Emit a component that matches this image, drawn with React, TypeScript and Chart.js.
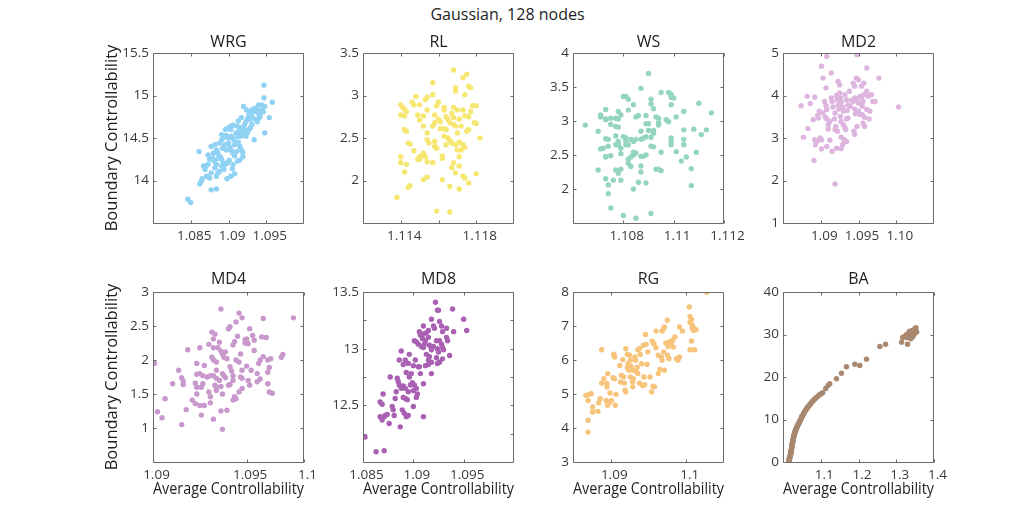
import { useEffect, useRef } from 'react';
import { Chart, registerables } from 'chart.js';

Chart.register(...registerables);
Chart.defaults.font.family = "'Open Sans', 'Noto Sans', sans-serif";

type Pt = [number, number];

// ---- data: [average controllability, boundary controllability] per node ----

const WRG: Pt[] = [
  [1.0846, 13.78], [1.085, 13.74], [1.0861, 14.34], [1.0862, 13.96], [1.0864, 13.99], [1.0865, 14.02],
  [1.0867, 14.17], [1.087, 14.17], [1.0873, 14.19], [1.0869, 14.13], [1.0877, 13.89], [1.0884, 13.9],
  [1.0871, 14.05], [1.0875, 14.03], [1.0877, 14.09], [1.0877, 14.4], [1.0882, 14.42], [1.0879, 14.26],
  [1.0881, 14.23], [1.0884, 14.19], [1.0882, 14.15], [1.0886, 14.09], [1.0884, 14.05], [1.0888, 14.11],
  [1.0886, 14.32], [1.0889, 14.28], [1.0891, 14.25], [1.0893, 14.21], [1.0896, 14.19], [1.0899, 14.21],
  [1.0901, 14.24], [1.0888, 14.44], [1.0891, 14.48], [1.0894, 14.51], [1.0897, 14.53], [1.0896, 14.6],
  [1.09, 14.62], [1.0903, 14.64], [1.0906, 14.65], [1.0895, 14.42], [1.09, 14.44], [1.0902, 14.39],
  [1.0904, 14.35], [1.0906, 14.32], [1.0908, 14.29], [1.0911, 14.34], [1.0904, 14.52], [1.0907, 14.48],
  [1.091, 14.56], [1.0912, 14.52], [1.0914, 14.58], [1.0915, 14.62], [1.0908, 14.42], [1.0913, 14.45],
  [1.0915, 14.4], [1.0917, 14.36], [1.0919, 14.28], [1.0919, 14.33], [1.0916, 14.52], [1.0918, 14.56],
  [1.092, 14.6], [1.0921, 14.65], [1.0923, 14.69], [1.0925, 14.72], [1.0927, 14.74], [1.0923, 14.52],
  [1.0925, 14.56], [1.0927, 14.6], [1.0929, 14.62], [1.0931, 14.66], [1.092, 14.87], [1.0924, 14.83],
  [1.0927, 14.77], [1.0929, 14.79], [1.0931, 14.75], [1.0934, 14.81], [1.0934, 14.48], [1.0935, 14.85],
  [1.0938, 14.83], [1.094, 14.79], [1.0942, 14.76], [1.0936, 14.72], [1.0938, 14.69], [1.094, 14.73],
  [1.0943, 14.83], [1.0946, 14.81], [1.0947, 15.12], [1.0947, 14.97], [1.0948, 14.87], [1.0944, 14.89],
  [1.0948, 14.56], [1.0954, 14.74], [1.0958, 14.92], [1.0905, 14.14], [1.0908, 14.08], [1.0903, 14.05],
  [1.0898, 14.02], [1.0894, 14.13], [1.0891, 14.17], [1.0897, 14.36], [1.0892, 14.38], [1.0884, 14.36],
  [1.0886, 14.26], [1.0875, 14.25], [1.0873, 14.3], [1.088, 14.32], [1.0903, 14.6], [1.0911, 14.64],
  [1.0913, 14.7], [1.0917, 14.74], [1.0929, 14.72], [1.0931, 14.83], [1.094, 14.89], [1.0942, 14.81],
  [1.0915, 14.24], [1.0912, 14.23], [1.0906, 14.19], [1.09, 14.5], [1.0891, 14.54],
];

const RL: Pt[] = [
  [1.1138, 1.8], [1.1159, 1.64], [1.1166, 1.63], [1.114, 2.89], [1.1141, 2.86], [1.1142, 2.84],
  [1.1143, 2.81], [1.114, 2.77], [1.1142, 2.76], [1.1142, 2.6], [1.1143, 2.58], [1.1144, 2.44],
  [1.1145, 2.43], [1.114, 2.28], [1.114, 2.21], [1.1143, 2.19], [1.1142, 2.1], [1.1144, 1.92],
  [1.1145, 1.94], [1.1147, 2.89], [1.1148, 2.99], [1.1146, 2.92], [1.1149, 2.77], [1.115, 2.71],
  [1.1147, 2.35], [1.115, 2.89], [1.1153, 2.95], [1.1154, 2.98], [1.1157, 3.01], [1.1157, 3.15],
  [1.1152, 2.76], [1.1154, 2.83], [1.1152, 2.64], [1.115, 2.28], [1.1151, 2.29], [1.1152, 2.32],
  [1.1153, 2.28], [1.1149, 2.25], [1.115, 2.25], [1.1154, 2.56], [1.1154, 2.48], [1.1155, 2.44],
  [1.1154, 2.22], [1.1152, 2.01], [1.1154, 2.04], [1.1157, 2.21], [1.1157, 2.64], [1.1158, 2.68],
  [1.1158, 2.77], [1.1159, 2.88], [1.116, 2.92], [1.116, 2.72], [1.1161, 2.69], [1.1158, 2.4],
  [1.1159, 2.38], [1.1158, 2.46], [1.1162, 2.29], [1.1162, 2.26], [1.1162, 2.01], [1.1163, 2.83],
  [1.1163, 2.86], [1.1164, 2.75], [1.1165, 2.72], [1.1166, 2.68], [1.1164, 2.6], [1.1165, 2.5],
  [1.1166, 2.47], [1.1166, 1.93], [1.1167, 2.79], [1.1168, 2.74], [1.1168, 2.66], [1.1169, 2.64],
  [1.1168, 2.86], [1.1168, 3.3], [1.1169, 3.09], [1.1169, 3.05], [1.1167, 2.44], [1.1169, 2.42],
  [1.1168, 2.21], [1.1167, 2.15], [1.1169, 2.09], [1.117, 2.83], [1.1171, 2.72], [1.1172, 2.64],
  [1.117, 2.56], [1.1171, 2.45], [1.1173, 2.42], [1.1174, 2.39], [1.1172, 2.36], [1.117, 2.36],
  [1.1171, 2.17], [1.1171, 2.28], [1.1171, 1.9], [1.1173, 2.05], [1.1174, 2.03], [1.1176, 1.97],
  [1.1173, 3.21], [1.1175, 3.25], [1.1176, 3.11], [1.1177, 3.09], [1.1174, 3.01], [1.1173, 2.83],
  [1.1174, 2.76], [1.1176, 2.75], [1.1177, 2.81], [1.1178, 2.88], [1.118, 2.88], [1.1179, 2.68],
  [1.118, 2.67], [1.1175, 2.58], [1.1176, 2.6], [1.118, 2.08], [1.1182, 2.5], [1.1161, 2.61],
  [1.1163, 2.61], [1.1163, 2.52], [1.1164, 2.42],
];

const WS: Pt[] = [
  [1.10649, 2.94], [1.107, 2.85], [1.107, 2.28], [1.1071, 3.06], [1.1071, 3.09], [1.1073, 3.17],
  [1.1073, 3.03], [1.1073, 3.02], [1.1071, 2.59], [1.1072, 2.6], [1.1073, 2.74], [1.1074, 2.73],
  [1.1074, 2.63], [1.1073, 2.47], [1.1073, 2.48], [1.1075, 2.49], [1.1073, 2.15], [1.1074, 2.06],
  [1.1074, 1.93], [1.1075, 1.72], [1.1076, 2.13], [1.1075, 3.04], [1.1075, 2.95], [1.1077, 3.04],
  [1.1078, 3.03], [1.1079, 3.09], [1.1078, 3.14], [1.1077, 2.78], [1.1077, 2.92], [1.1078, 2.91],
  [1.1078, 2.7], [1.1077, 2.65], [1.1078, 2.65], [1.1079, 2.6], [1.1079, 2.52], [1.1077, 2.28],
  [1.1078, 2.23], [1.1079, 2.13], [1.1079, 2.29], [1.108, 1.61], [1.1085, 1.57], [1.1091, 1.64],
  [1.108, 3.36], [1.1081, 3.36], [1.1082, 3.32], [1.1082, 3.16], [1.108, 2.77], [1.1081, 2.75],
  [1.1081, 2.71], [1.1082, 2.65], [1.1081, 2.65], [1.1082, 2.38], [1.1082, 2.44], [1.1083, 2.47],
  [1.1084, 2.54], [1.1084, 2.5], [1.1085, 2.53], [1.1083, 2.33], [1.1083, 2.73], [1.1084, 2.7],
  [1.1085, 2.73], [1.1084, 2.0], [1.1086, 2.1], [1.1089, 2.09], [1.1084, 3.24], [1.1085, 3.06],
  [1.1086, 3.08], [1.1087, 3.48], [1.1087, 2.85], [1.1087, 2.73], [1.1088, 2.75], [1.1087, 2.25],
  [1.1087, 2.34], [1.1088, 2.48], [1.1089, 2.5], [1.1087, 2.48], [1.1089, 3.08], [1.1089, 2.96],
  [1.109, 2.96], [1.109, 2.86], [1.1091, 3.32], [1.1091, 3.25], [1.1092, 3.18], [1.1089, 2.77],
  [1.109, 3.7], [1.1091, 2.76], [1.1092, 2.82], [1.1092, 2.86], [1.1091, 2.63], [1.1092, 2.62],
  [1.1093, 3.06], [1.1094, 2.96], [1.1094, 2.94], [1.1094, 2.98], [1.1094, 3.04], [1.1093, 2.29],
  [1.1094, 2.29], [1.1095, 2.27], [1.1095, 2.54], [1.1095, 3.42], [1.1097, 3.02], [1.1098, 2.99],
  [1.1098, 3.42], [1.1099, 3.39], [1.1099, 3.35], [1.11, 3.34], [1.1099, 3.24], [1.1099, 2.75],
  [1.1099, 2.7], [1.1099, 2.65], [1.1101, 2.55], [1.1101, 3.06], [1.1104, 2.87], [1.1104, 3.14],
  [1.1104, 2.73], [1.1104, 2.65], [1.1103, 2.41], [1.1105, 2.47], [1.1107, 2.05], [1.1107, 2.3],
  [1.1108, 2.88], [1.1109, 2.54], [1.111, 3.26], [1.1111, 2.8], [1.1113, 2.87], [1.1115, 3.12],
];

const MD2: Pt[] = [
  [1.0874, 3.76], [1.0877, 3.02], [1.0882, 3.98], [1.0886, 3.81], [1.0892, 3.96], [1.0883, 3.22],
  [1.089, 3.43], [1.0891, 2.47], [1.0892, 2.96], [1.0893, 2.84], [1.0895, 2.92], [1.0896, 3.53],
  [1.0897, 3.47], [1.0898, 3.63], [1.0899, 3.0], [1.0901, 2.96], [1.0901, 2.74], [1.0901, 4.69],
  [1.0908, 4.92], [1.0903, 4.41], [1.0914, 4.53], [1.0905, 3.86], [1.0907, 3.76], [1.0908, 3.67],
  [1.0907, 4.18], [1.0903, 3.59], [1.0906, 3.49], [1.0908, 3.45], [1.091, 3.31], [1.0912, 3.39],
  [1.091, 3.21], [1.0912, 2.95], [1.0908, 2.8], [1.0915, 2.69], [1.0921, 2.76], [1.0914, 3.94],
  [1.0915, 3.86], [1.0916, 3.73], [1.0919, 3.59], [1.0918, 3.45], [1.0919, 3.2], [1.092, 3.27],
  [1.0922, 3.16], [1.0921, 4.0], [1.0922, 3.9], [1.0923, 3.78], [1.0924, 3.68], [1.0923, 4.33],
  [1.0925, 4.25], [1.0919, 1.92], [1.0925, 4.06], [1.0926, 3.94], [1.0927, 3.84], [1.0929, 3.73],
  [1.093, 3.63], [1.0926, 3.51], [1.0927, 3.39], [1.093, 3.31], [1.0932, 3.24], [1.0927, 3.02],
  [1.0929, 2.84], [1.0931, 2.96], [1.0927, 2.75], [1.0932, 4.02], [1.0934, 3.9], [1.0936, 3.78],
  [1.0935, 3.65], [1.0934, 3.45], [1.0936, 3.47], [1.0933, 3.2], [1.0938, 4.1], [1.0941, 3.89],
  [1.0939, 3.75], [1.0943, 4.29], [1.0945, 4.22], [1.0947, 4.41], [1.095, 4.37], [1.0948, 4.96],
  [1.0943, 3.86], [1.0945, 3.94], [1.0947, 3.9], [1.095, 3.82], [1.0952, 3.98], [1.0945, 3.68],
  [1.0946, 3.57], [1.095, 3.63], [1.0944, 3.16], [1.0945, 3.08], [1.0948, 3.27], [1.0954, 3.94],
  [1.0956, 3.86], [1.0955, 3.75], [1.0957, 4.02], [1.0954, 4.22], [1.0957, 4.29], [1.0952, 3.55],
  [1.0955, 3.55], [1.0958, 3.49], [1.0958, 3.27], [1.0956, 3.35], [1.0961, 4.65], [1.0961, 4.1],
  [1.0963, 3.98], [1.0961, 3.67], [1.0964, 3.45], [1.0967, 4.02], [1.0965, 3.63], [1.0969, 3.86],
  [1.0972, 3.86], [1.0977, 4.41], [1.1003, 3.73], [1.0934, 2.92],
];

const MD4: Pt[] = [
  [1.0901, 1.95], [1.0903, 1.24], [1.0906, 1.15], [1.0908, 1.43], [1.0913, 1.65], [1.0917, 1.85],
  [1.0919, 1.74], [1.092, 1.69], [1.092, 1.64], [1.0919, 1.05], [1.0922, 1.27], [1.0923, 2.15],
  [1.0926, 1.41], [1.0928, 1.36], [1.0929, 1.5], [1.0929, 1.6], [1.0928, 1.66], [1.0929, 1.79],
  [1.0931, 1.33], [1.0932, 1.19], [1.0931, 2.18], [1.0929, 1.95], [1.0931, 1.8], [1.0933, 1.77],
  [1.0932, 1.6], [1.0933, 1.65], [1.0934, 1.33], [1.0937, 2.23], [1.0938, 1.77], [1.0936, 1.75],
  [1.0937, 1.53], [1.0938, 1.46], [1.0938, 1.37], [1.0939, 2.41], [1.094, 2.31], [1.0941, 2.38],
  [1.094, 2.18], [1.0939, 2.04], [1.094, 2.0], [1.0942, 1.97], [1.0942, 1.85], [1.094, 1.77],
  [1.0942, 1.73], [1.0941, 1.63], [1.0942, 1.6], [1.0942, 1.55], [1.094, 1.13], [1.0945, 2.75],
  [1.0944, 2.26], [1.0945, 2.13], [1.0943, 2.18], [1.0946, 2.09], [1.0948, 2.12], [1.0947, 2.04],
  [1.0949, 2.02], [1.0946, 1.8], [1.0947, 1.77], [1.0948, 1.74], [1.0944, 1.7], [1.0945, 1.61],
  [1.0946, 1.5], [1.0945, 1.25], [1.0949, 1.26], [1.0946, 0.98], [1.095, 2.46], [1.0951, 2.49],
  [1.0953, 2.22], [1.0954, 2.27], [1.0951, 1.9], [1.0952, 1.84], [1.0953, 1.77], [1.0953, 1.7],
  [1.095, 1.63], [1.0951, 1.64], [1.0953, 1.41], [1.0954, 1.46], [1.0955, 1.43], [1.0955, 2.56],
  [1.0957, 2.69], [1.0959, 2.62], [1.0956, 2.35], [1.0955, 2.0], [1.0957, 1.97], [1.0958, 2.09],
  [1.0959, 1.85], [1.0958, 1.75], [1.0959, 1.73], [1.0957, 1.53], [1.0959, 1.58], [1.0961, 2.3],
  [1.0962, 2.31], [1.0961, 2.25], [1.0963, 2.24], [1.0964, 2.46], [1.0962, 1.91], [1.0963, 1.7],
  [1.0964, 1.63], [1.0966, 2.36], [1.0967, 2.14], [1.0967, 2.29], [1.0969, 1.68], [1.0969, 1.8],
  [1.097, 1.95], [1.0971, 2.0], [1.0971, 1.72], [1.0972, 2.34], [1.0973, 2.61], [1.0973, 2.05],
  [1.0975, 2.33], [1.0976, 2.0], [1.0976, 1.82], [1.0977, 1.89], [1.0976, 1.65], [1.0977, 1.53],
  [1.0979, 1.51], [1.0978, 2.02], [1.0985, 2.04], [1.0986, 2.08], [1.0993, 2.62], [1.0965, 1.85],
  [1.0934, 1.92],
];

const MD8: Pt[] = [
  [1.0852, 12.22], [1.0863, 12.09], [1.0871, 12.1], [1.0867, 12.53], [1.087, 12.6], [1.0869, 12.51],
  [1.0867, 12.4], [1.0869, 12.37], [1.0872, 12.41], [1.0874, 12.42], [1.0871, 12.4], [1.0877, 12.75],
  [1.0876, 12.34], [1.0879, 12.49], [1.088, 12.46], [1.0881, 12.41], [1.0882, 12.56], [1.0883, 12.62],
  [1.0884, 12.74], [1.0885, 12.71], [1.0887, 12.31], [1.0886, 12.9], [1.0888, 12.98], [1.0886, 12.68],
  [1.0888, 12.65], [1.089, 12.67], [1.089, 12.57], [1.0892, 12.56], [1.0894, 12.55], [1.0889, 12.46],
  [1.0891, 12.43], [1.0893, 12.4], [1.0895, 12.41], [1.089, 12.86], [1.0892, 12.9], [1.0895, 12.87],
  [1.0896, 12.95], [1.0893, 12.79], [1.0896, 12.75], [1.0898, 12.78], [1.09, 12.85], [1.0892, 12.65],
  [1.0895, 12.62], [1.0897, 12.68], [1.09, 12.63], [1.0899, 12.7], [1.0901, 12.68], [1.0903, 12.65],
  [1.0904, 12.6], [1.09, 12.49], [1.0903, 12.57], [1.091, 12.4], [1.0901, 13.07], [1.0903, 13.06],
  [1.0905, 13.04], [1.0902, 12.9], [1.0905, 12.84], [1.0906, 12.84], [1.0907, 12.78], [1.091, 12.69],
  [1.0906, 13.15], [1.0907, 13.12], [1.0909, 13.09], [1.091, 13.13], [1.0908, 13.02], [1.091, 13.01],
  [1.0911, 13.04], [1.0912, 13.07], [1.091, 13.2], [1.0913, 13.14], [1.0915, 13.1], [1.0915, 13.16],
  [1.0913, 12.95], [1.0915, 12.9], [1.0916, 12.93], [1.0918, 12.99], [1.0912, 12.85], [1.0915, 12.86],
  [1.0918, 12.88], [1.0916, 13.03], [1.0918, 13.01], [1.092, 13.02], [1.0918, 13.26], [1.092, 13.2],
  [1.0921, 13.18], [1.0923, 13.07], [1.0924, 13.0], [1.0925, 12.97], [1.0923, 12.92], [1.0922, 13.41],
  [1.0924, 13.34], [1.0925, 13.34], [1.0926, 13.24], [1.0928, 13.2], [1.0929, 13.15], [1.0926, 13.07],
  [1.0928, 13.04], [1.0929, 13.01], [1.093, 12.99], [1.0929, 12.91], [1.0924, 12.87], [1.0926, 12.88],
  [1.0933, 13.1], [1.0934, 13.07], [1.0933, 13.18], [1.0936, 12.94], [1.0939, 13.35], [1.094, 13.15],
  [1.095, 13.26], [1.0953, 13.16], [1.0918, 12.78],
];

const RG: Pt[] = [
  [1.0867, 4.96], [1.0871, 4.99], [1.0874, 5.01], [1.087, 4.81], [1.087, 4.23], [1.087, 3.88],
  [1.0876, 4.62], [1.0876, 4.47], [1.0883, 4.49], [1.0884, 4.74], [1.0888, 6.3], [1.0886, 4.86],
  [1.0888, 5.32], [1.0891, 5.45], [1.0894, 4.81], [1.0896, 4.67], [1.0899, 5.03], [1.0898, 4.76],
  [1.0896, 5.6], [1.0895, 5.3], [1.0895, 5.21], [1.0901, 4.81], [1.0903, 5.48], [1.0905, 5.45],
  [1.0907, 4.99], [1.0906, 4.67], [1.0904, 6.17], [1.0905, 6.09], [1.0912, 5.84], [1.0913, 5.35],
  [1.0914, 5.55], [1.0916, 6.01], [1.0917, 5.5], [1.0918, 5.32], [1.0919, 5.11], [1.092, 5.06],
  [1.092, 6.33], [1.0922, 6.16], [1.0923, 5.89], [1.0922, 5.77], [1.0924, 5.7], [1.0925, 6.14],
  [1.0926, 5.99], [1.0927, 5.81], [1.0929, 5.7], [1.0926, 5.5], [1.0929, 5.35], [1.093, 5.45],
  [1.0929, 5.21], [1.0932, 6.09], [1.0933, 5.99], [1.0935, 5.79], [1.0936, 5.6], [1.0934, 5.65],
  [1.0936, 6.3], [1.0938, 6.33], [1.0939, 6.16], [1.0941, 5.89], [1.0938, 5.32], [1.0942, 5.25],
  [1.0944, 5.5], [1.0945, 5.27], [1.0943, 6.43], [1.0946, 6.75], [1.0947, 6.46], [1.0949, 6.24],
  [1.0948, 5.87], [1.0952, 5.5], [1.0954, 5.06], [1.0956, 5.23], [1.0958, 5.21], [1.0955, 6.55],
  [1.0957, 6.48], [1.096, 6.85], [1.0963, 6.14], [1.096, 6.36], [1.0963, 5.6], [1.0965, 5.72],
  [1.0967, 6.09], [1.0968, 5.99], [1.0968, 6.85], [1.097, 6.24], [1.0971, 5.7], [1.097, 6.92],
  [1.0971, 6.97], [1.0973, 6.5], [1.0975, 7.17], [1.0975, 6.14], [1.0977, 6.04], [1.0976, 6.4],
  [1.0978, 6.53], [1.098, 6.48], [1.0982, 6.58], [1.0983, 6.38], [1.0985, 6.68], [1.0987, 6.04],
  [1.0989, 5.99], [1.0991, 6.09], [1.0991, 6.97], [1.0995, 6.85], [1.1004, 7.56], [1.1005, 7.28],
  [1.1007, 7.19], [1.1008, 7.02], [1.101, 6.87], [1.1005, 7.11], [1.1008, 6.92], [1.1011, 6.92],
  [1.1013, 6.89], [1.1005, 6.3], [1.1007, 6.56], [1.1011, 6.3], [1.1027, 7.99],
];

const BA: Pt[] = [
  [1.016, 0.05], [1.0163, 0.2], [1.0161, 0.35], [1.0166, 0.5], [1.0169, 0.65], [1.0167, 0.8], [1.0172, 0.95],
  [1.019, 1.1], [1.0187, 1.25], [1.0194, 1.4], [1.0196, 1.55], [1.0193, 1.7], [1.0201, 1.85],
  [1.0205, 2.0], [1.0203, 2.15], [1.0211, 2.3], [1.0214, 2.45], [1.021, 2.6], [1.022, 2.75], [1.0224, 2.9],
  [1.0222, 3.05], [1.023, 3.2], [1.0233, 3.4], [1.0229, 3.55], [1.0238, 3.7], [1.0241, 3.85],
  [1.024, 4.0], [1.0248, 4.2], [1.0251, 4.35], [1.0247, 4.5], [1.0257, 4.7], [1.0261, 4.85],
  [1.026, 5.05], [1.0268, 5.2], [1.0272, 5.4], [1.0269, 5.55], [1.0279, 5.7], [1.0284, 5.9],
  [1.0283, 6.05], [1.0293, 6.2], [1.0299, 6.4], [1.0296, 6.55], [1.0309, 6.7], [1.0316, 6.9],
  [1.0315, 7.05], [1.0328, 7.25], [1.0336, 7.45], [1.0333, 7.6], [1.0349, 7.8], [1.0358, 7.95],
  [1.036, 8.1], [1.0376, 8.3], [1.0386, 8.5], [1.0384, 8.65], [1.0402, 8.8], [1.0413, 8.95],
  [1.042, 9.15], [1.0435, 9.35], [1.0446, 9.55], [1.0447, 9.7], [1.0462, 9.9],
  [1.0472, 10.1], [1.0485, 10.3], [1.0496, 10.55], [1.0499, 10.7], [1.0516, 10.9],
  [1.0533, 11.1], [1.0548, 11.35], [1.0557, 11.55], [1.0563, 11.7], [1.058, 11.9],
  [1.0598, 12.15], [1.0612, 12.35], [1.0626, 12.55], [1.064, 12.7], [1.0655, 12.9],
  [1.0675, 13.1], [1.0692, 13.3], [1.0708, 13.5], [1.0722, 13.65], [1.0745, 13.9],
  [1.077, 14.15], [1.0792, 14.35], [1.081, 14.55], [1.0835, 14.75], [1.0858, 14.95],
  [1.0885, 15.2], [1.092, 15.45], [1.0952, 15.7], [1.0985, 15.95], [1.1015, 16.1], [1.105, 16.3],
  [1.1133, 17.3], [1.1195, 18.0], [1.1239, 18.4], [1.1416, 19.6], [1.1549, 20.9], [1.1681, 22.4],
  [1.1903, 23.0], [1.2035, 22.7], [1.2212, 24.2], [1.2566, 27.2], [1.2717, 27.7],
  [1.3142, 28.2], [1.3168, 29.3], [1.323, 29.6], [1.3274, 30.0], [1.3301, 27.7], [1.3319, 29.4],
  [1.3363, 30.4], [1.3407, 29.8], [1.3451, 31.0], [1.3496, 31.4], [1.3434, 29.4], [1.3496, 30.4],
  [1.3381, 29.0], [1.3345, 30.7], [1.3469, 30.0], [1.3522, 31.6], [1.3407, 30.9], [1.3274, 29.3],
  [1.354, 30.6],
];

// ---- axis ticks and their labels ('' = tick mark without text) ----

const WRG_X_TICKS = [1.085, 1.09, 1.095];
const WRG_X_LABELS = ['1.085', '1.09', '1.095'];
const WRG_Y_TICKS = [14, 14.5, 15, 15.5];
const WRG_Y_LABELS = ['14', '14.5', '15', '15.5'];

const RL_X_TICKS = [1.114, 1.116, 1.118];
const RL_X_LABELS = ['1.114', '', '1.118'];
const RL_Y_TICKS = [2, 2.5, 3, 3.5];
const RL_Y_LABELS = ['2', '2.5', '3', '3.5'];

const WS_X_TICKS = [1.108, 1.11, 1.112];
const WS_X_LABELS = ['1.108', '1.11', '1.112'];
const WS_Y_TICKS = [2, 2.5, 3, 3.5, 4];
const WS_Y_LABELS = ['2', '2.5', '3', '3.5', '4'];

const MD2_X_TICKS = [1.09, 1.095, 1.1];
const MD2_X_LABELS = ['1.09', '1.095', '1.10'];
const MD2_Y_TICKS = [1, 2, 3, 4, 5];
const MD2_Y_LABELS = ['1', '2', '3', '4', '5'];

const MD4_X_TICKS = [1.09, 1.0962, 1.1];
const MD4_X_LABELS = ['1.09', '1.095', '1.1'];
const MD4_Y_TICKS = [1, 1.5, 2, 2.5, 3];
const MD4_Y_LABELS = ['1', '1.5', '2', '2.5', '3'];

const MD8_X_TICKS = [1.085, 1.09, 1.095];
const MD8_X_LABELS = ['1.085', '1.09', '1.095'];
const MD8_Y_TICKS = [12.25, 12.5, 12.75, 13, 13.25, 13.5];
const MD8_Y_LABELS = ['', '12.5', '', '13', '', '13.5'];

const RG_X_TICKS = [1.09, 1.1];
const RG_X_LABELS = ['1.09', '1.1'];
const RG_Y_TICKS = [3, 4, 5, 6, 7, 8];
const RG_Y_LABELS = ['3', '4', '5', '6', '7', '8'];

const BA_X_TICKS = [1.1, 1.2, 1.3, 1.4];
const BA_X_LABELS = ['1.1', '1.2', '1.3', '1.4'];
const BA_Y_TICKS = [0, 10, 20, 30, 40];
const BA_Y_LABELS = ['0', '10', '20', '30', '40'];

const FIGURE_TITLE = 'Gaussian, 128 nodes';
const X_TITLE = 'Average Controllability';
const Y_TITLE = 'Boundary Controllability';

interface PanelSpec {
  name: string;
  points: Pt[];
  color: string;
  xRange: [number, number];
  yRange: [number, number];
  xTicks: number[];
  xLabels: string[];
  yTicks: number[];
  yLabels: string[];
}

const PANELS: PanelSpec[] = [
  { name: 'WRG', points: WRG, color: '#8fd2f3', xRange: [1.08, 1.1], yRange: [13.5, 15.5], xTicks: WRG_X_TICKS, xLabels: WRG_X_LABELS, yTicks: WRG_Y_TICKS, yLabels: WRG_Y_LABELS },
  { name: 'RL', points: RL, color: '#f5e772', xRange: [1.112, 1.12], yRange: [1.5, 3.5], xTicks: RL_X_TICKS, xLabels: RL_X_LABELS, yTicks: RL_Y_TICKS, yLabels: RL_Y_LABELS },
  { name: 'WS', points: WS, color: '#94d6bd', xRange: [1.106, 1.112], yRange: [1.5, 4], xTicks: WS_X_TICKS, xLabels: WS_X_LABELS, yTicks: WS_Y_TICKS, yLabels: WS_Y_LABELS },
  { name: 'MD2', points: MD2, color: '#deb5de', xRange: [1.085, 1.105], yRange: [1, 5], xTicks: MD2_X_TICKS, xLabels: MD2_X_LABELS, yTicks: MD2_Y_TICKS, yLabels: MD2_Y_LABELS },
  { name: 'MD4', points: MD4, color: '#c898cd', xRange: [1.09, 1.1], yRange: [0.5, 3], xTicks: MD4_X_TICKS, xLabels: MD4_X_LABELS, yTicks: MD4_Y_TICKS, yLabels: MD4_Y_LABELS },
  { name: 'MD8', points: MD8, color: '#a960b3', xRange: [1.085, 1.1], yRange: [12, 13.5], xTicks: MD8_X_TICKS, xLabels: MD8_X_LABELS, yTicks: MD8_Y_TICKS, yLabels: MD8_Y_LABELS },
  { name: 'RG', points: RG, color: '#f7c47b', xRange: [1.085, 1.105], yRange: [3, 8], xTicks: RG_X_TICKS, xLabels: RG_X_LABELS, yTicks: RG_Y_TICKS, yLabels: RG_Y_LABELS },
  { name: 'BA', points: BA, color: '#a9886f', xRange: [1.0, 1.4], yRange: [0, 40], xTicks: BA_X_TICKS, xLabels: BA_X_LABELS, yTicks: BA_Y_TICKS, yLabels: BA_Y_LABELS },
];

// ---- layout of the 2 x 4 grid (page pixels) ----
const COL_LEFT = [153, 363, 573, 783];
const ROW_TOP = [53, 292];
const PLOT_W = 151;
const PLOT_H = 170;
const SIDE = 70; // room left of the plot (y axis) and mirrored on the right
const HEAD = 30; // room above the plot for the panel title
const FOOT = 50; // room below the plot for the x axis
const CANVAS_W = SIDE + PLOT_W + SIDE;
const CANVAS_H = HEAD + PLOT_H + FOOT;

const AXIS_COLOR = '#6a6a6a';
const LABEL_COLOR = '#3a3a3a';
const TEXT_COLOR = '#1e1e1e';
const TICK_LEN = 3;
const PANEL_TITLE_SIZE = 16;
const AXIS_TITLE_SIZE = 16.5;
const TICK_FONT_SIZE = 13.5;

// Box around the plot area with inward tick marks on all four sides.
const framePlugin = {
  id: 'frame',
  afterDatasetsDraw(chart: any) {
    const { ctx, chartArea: a, scales } = chart;
    const l = Math.floor(a.left) + 0.5;
    const r = Math.floor(a.right) - 0.5;
    const t = Math.floor(a.top) + 0.5;
    const b = Math.floor(a.bottom) + 0.5;
    ctx.save();
    ctx.strokeStyle = AXIS_COLOR;
    ctx.lineWidth = 1;
    ctx.beginPath();
    ctx.rect(l, t, r - l, b - t);
    for (const tk of scales.x.ticks) {
      const px = Math.round(scales.x.getPixelForValue(tk.value)) + 0.5;
      ctx.moveTo(px, b);
      ctx.lineTo(px, b - TICK_LEN);
      ctx.moveTo(px, t);
      ctx.lineTo(px, t + TICK_LEN);
    }
    for (const tk of scales.y.ticks) {
      const py = Math.round(scales.y.getPixelForValue(tk.value)) + 0.5;
      ctx.moveTo(l, py);
      ctx.lineTo(l + TICK_LEN, py);
      ctx.moveTo(r, py);
      ctx.lineTo(r - TICK_LEN, py);
    }
    ctx.stroke();
    ctx.restore();
  },
};

function Panel({ spec, row, col }: { spec: PanelSpec; row: number; col: number }) {
  const ref = useRef<HTMLCanvasElement>(null);

  useEffect(() => {
    const canvas = ref.current;
    if (!canvas) return;
    const titleLine = PANEL_TITLE_SIZE * 1.2;
    const titleTop = row === 0 ? 10 : 8;
    const chart = new Chart(canvas, {
      type: 'scatter',
      data: {
        datasets: [
          {
            data: spec.points.map(([x, y]) => ({ x, y })),
            backgroundColor: spec.color,
            borderWidth: 0,
            pointRadius: 2.7,
            pointHoverRadius: 2.7,
          },
        ],
      },
      options: {
        responsive: false,
        animation: false,
        events: [],
        layout: { padding: { left: 0, right: SIDE, top: 0, bottom: 0 } },
        plugins: {
          legend: { display: false },
          tooltip: { enabled: false },
          title: {
            display: true,
            text: spec.name,
            fullSize: false,
            color: TEXT_COLOR,
            font: { size: PANEL_TITLE_SIZE, weight: 'normal' },
            padding: { top: titleTop, bottom: HEAD - titleLine - titleTop },
          },
        },
        scales: {
          x: {
            type: 'linear',
            position: 'bottom',
            min: spec.xRange[0],
            max: spec.xRange[1],
            grid: { display: false, drawTicks: false },
            border: { display: false },
            afterBuildTicks: (s: any) => {
              s.ticks = spec.xTicks.map((v) => ({ value: v }));
            },
            afterFit: (s: any) => {
              s.height = FOOT;
            },
            ticks: {
              autoSkip: false,
              maxRotation: 0,
              minRotation: 0,
              padding: 5,
              labelOffset: 3.5,
              color: LABEL_COLOR,
              font: { size: TICK_FONT_SIZE },
              callback: (_v: any, i: number) => spec.xLabels[i],
            },
            title: {
              display: row === 1,
              text: X_TITLE,
              color: TEXT_COLOR,
              font: { size: AXIS_TITLE_SIZE },
              padding: { top: 0, bottom: 13 },
            },
          },
          y: {
            type: 'linear',
            position: 'left',
            min: spec.yRange[0],
            max: spec.yRange[1],
            grid: { display: false, drawTicks: false },
            border: { display: false },
            afterBuildTicks: (s: any) => {
              s.ticks = spec.yTicks.map((v) => ({ value: v }));
            },
            afterFit: (s: any) => {
              s.width = SIDE;
            },
            ticks: {
              autoSkip: false,
              padding: 4,
              color: LABEL_COLOR,
              font: { size: TICK_FONT_SIZE },
              callback: (_v: any, i: number) => spec.yLabels[i],
            },
            title: {
              display: col === 0,
              text: Y_TITLE,
              color: TEXT_COLOR,
              font: { size: AXIS_TITLE_SIZE },
              padding: { top: 19.5, bottom: 0 },
            },
          },
        },
      },
      plugins: [framePlugin],
    } as any);
    return () => chart.destroy();
  }, [spec, row, col]);

  return (
    <canvas
      ref={ref}
      width={CANVAS_W}
      height={CANVAS_H}
      style={{
        position: 'absolute',
        left: COL_LEFT[col] - SIDE,
        top: ROW_TOP[row] - HEAD,
        width: CANVAS_W,
        height: CANVAS_H,
      }}
    />
  );
}

export default function App() {
  return (
    <div
      style={{
        position: 'absolute',
        left: 0,
        top: 0,
        width: 1015,
        height: 508,
        background: '#ffffff',
        overflow: 'hidden',
      }}
    >
      <div
        style={{
          position: 'absolute',
          left: 0,
          top: 5,
          width: 1015,
          textAlign: 'center',
          fontFamily: "'Open Sans', 'Noto Sans', sans-serif",
          fontSize: 16,
          lineHeight: '18px',
          color: TEXT_COLOR,
        }}
      >
        {FIGURE_TITLE}
      </div>
      {PANELS.map((spec, i) => (
        <Panel key={spec.name} spec={spec} row={Math.floor(i / 4)} col={i % 4} />
      ))}
    </div>
  );
}
